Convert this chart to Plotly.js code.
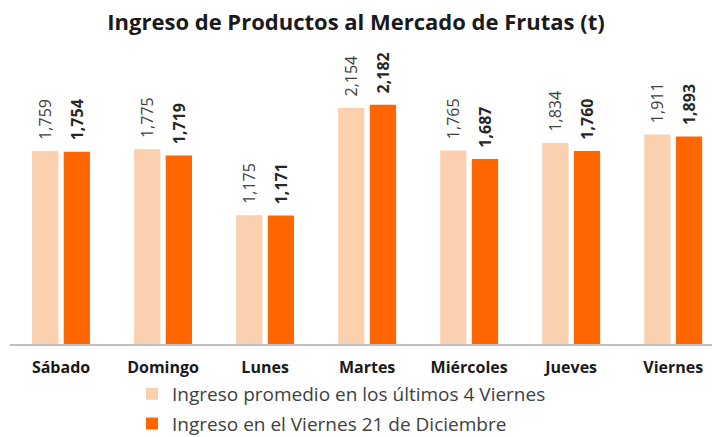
<!DOCTYPE html>
<html>
<head>
<meta charset="utf-8">
<script src="https://cdn.plot.ly/plotly-3.0.1.min.js"></script>
<style>html,body{margin:0;padding:0;background:#fff;}#chart{width:712px;height:437px;}</style>
</head>
<body>
<div id="chart"></div>
<script>
const categories = ["Sábado", "Domingo", "Lunes", "Martes", "Miércoles", "Jueves", "Viernes"];
const promedio = [1759, 1775, 1175, 2154, 1765, 1834, 1911];
const viernes21 = [1754, 1719, 1171, 2182, 1687, 1760, 1893];
const seriesNames = ["Ingreso promedio en los últimos 4 Viernes", "Ingreso en el Viernes 21 de Diciembre"];

const FONT = "'Open Sans', sans-serif";
const pad = "\u00a0\u00a0";

const traces = [
  {
    type: "bar", x: categories, y: promedio, name: seriesNames[0], legendgroup: "a",
    marker: {color: "#FAD0AF"},
    texttemplate: pad + "%{y:,.0f}", textposition: "outside", textangle: -90,
    textfont: {family: FONT, size: 16, color: "#404040"}, cliponaxis: false,
    constraintext: "none", hoverinfo: "skip"
  },
  {
    type: "bar", x: categories, y: viernes21, name: seriesNames[1], legendgroup: "b",
    marker: {color: "#FF6600"},
    texttemplate: pad + "<b>%{y:,.0f}</b>", textposition: "outside", textangle: -90,
    textfont: {family: FONT, size: 16, color: "#262626"}, cliponaxis: false,
    constraintext: "none", hoverinfo: "skip"
  }
];

const layout = {
  width: 712, height: 437,
  margin: {l: 10, r: 0, t: 60, b: 93, autoexpand: false},
  paper_bgcolor: "#ffffff", plot_bgcolor: "#ffffff",
  font: {family: FONT, color: "#404040"},
  title: {text: "<b>Ingreso de Productos al Mercado de Frutas (t)</b>", x: 0.5, xref: "container", xanchor: "center",
          y: 1 - 22 / 437, yref: "container", yanchor: "middle",
          font: {family: FONT, size: 22, color: "#1a1a1a"}},
  barmode: "group", bargap: 0.38, bargroupgap: 0.17,
  xaxis: {range: [-0.5, 6.38], showline: true, linecolor: "#bfbfbf", linewidth: 1.5, ticks: "",
          showgrid: false, zeroline: false, ticklabelstandoff: 8, tickangle: 0, automargin: false,
          tickfont: {family: FONT, size: 16, color: "#1a1a1a", weight: "bold"}},
  yaxis: {range: [0, 2590], visible: false, showgrid: false, zeroline: false, automargin: false},
  showlegend: true,
  legend: {orientation: "v", x: 0.1738, xanchor: "left", y: -0.109, yanchor: "top",
           traceorder: "grouped", tracegroupgap: 2,
           font: {family: FONT, size: 19, color: "#404040"}, bgcolor: "rgba(0,0,0,0)"}
};

Plotly.newPlot("chart", traces, layout, {displayModeBar: false, staticPlot: true});
</script>
</body>
</html>
